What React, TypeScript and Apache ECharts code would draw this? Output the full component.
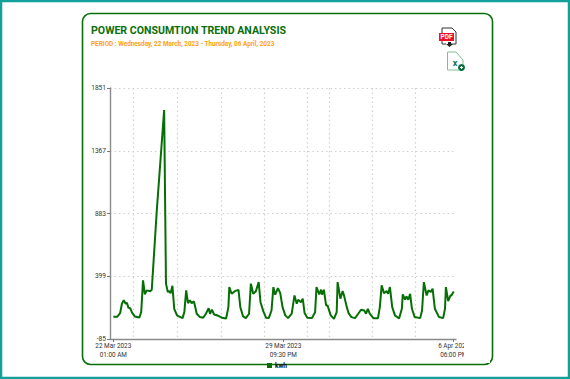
import React, { useEffect, useRef } from "react";
import * as echarts from "echarts";

const TITLE = "POWER CONSUMTION TREND ANALYSIS";
const PERIOD = "PERIOD : Wednesday, 22 March, 2023 - Thursday, 06 April, 2023";
const SERIES_NAME = "kwh";

const yTicks = [-85, 399, 883, 1367, 1851];
const xLabelPositions = [3.6, 188.8, 374.5];
const xLabels = ["22 Mar 2023\n01:00 AM", "29 Mar 2023\n09:30 PM", "6 Apr 2023\n06:00 PM"];
const xGridPositions = [25, 73, 121, 168, 215, 239, 286, 333];

const hours = [
  3.6, 8, 11, 13, 15, 17, 18.5, 20, 22, 24, 27, 32, 34, 36, 38, 40, 44, 45.5, 51, 59, 61, 63, 64.5, 66, 68, 70, 73,
  74.5, 79, 81, 83, 85, 87, 89, 91.5, 94.5, 98, 101.5, 104.5, 107.5, 109, 111, 113.5, 118, 122, 126.5, 129, 130,
  132.5, 136, 140, 142, 145, 148, 151.5, 153.5, 156, 159, 162, 164, 167, 170, 173, 176, 178, 180, 183, 185.5, 188,
  191, 194, 198, 201, 203.5, 205, 208, 210, 212, 215, 220, 223.5, 225, 228, 230, 231, 233, 235.5, 237, 240.5, 244,
  247, 248, 251, 253.5, 255, 258, 260, 263, 267, 270.5, 273.5, 277, 279, 281, 283, 287, 292, 294, 296, 298.5, 301.5,
  303, 305, 307.5, 310.5, 315, 318, 319, 321.5, 323, 325, 327, 329, 332, 338, 340, 342, 345, 347, 349.5, 351.5, 354,
  358.5, 363, 365, 366, 368.5, 371, 372, 374.5,
];
const kwh = [
  87, 87, 114, 187, 215, 187, 195, 156, 153, 118, 89, 81, 122, 367, 259, 290, 284, 295, 908, 1681, 342, 277, 286, 267,
  325, 148, 97, 91, 76, 122, 290, 192, 213, 192, 205, 110, 84, 79, 110, 153, 110, 141, 104, 94, 79, 73, 161, 315, 264,
  284, 294, 161, 89, 76, 110, 342, 264, 284, 354, 199, 130, 79, 76, 135, 315, 257, 308, 269, 161, 97, 76, 110, 251,
  187, 218, 199, 226, 116, 79, 76, 122, 315, 259, 295, 257, 295, 174, 174, 97, 71, 122, 354, 226, 284, 251, 161, 114,
  84, 76, 110, 141, 135, 110, 148, 110, 76, 76, 161, 329, 269, 284, 264, 315, 161, 97, 73, 148, 259, 218, 244, 218,
  264, 148, 84, 76, 135, 354, 251, 290, 277, 303, 148, 84, 76, 148, 315, 207, 251, 251, 282,
];

const GREEN = "#0a6f0a";
const LINE = "#056f05";
const TEAL = "#12a19a";
const FONT = "Roboto";
const GRID_LINE = { color: "#d0d0d0", type: [1.5, 3], width: 1.2 };

export default function App() {
  const ref = useRef<HTMLDivElement>(null);
  useEffect(() => {
    const chart = echarts.init(ref.current!, null, { renderer: "svg" });
    chart.setOption({
      animation: false,
      backgroundColor: "#fff",
      textStyle: { fontFamily: FONT },
      title: {
        text: TITLE,
        subtext: PERIOD,
        left: 91,
        top: 25,
        padding: 0,
        itemGap: 5,
        textStyle: { fontFamily: FONT, fontSize: 10.6, fontWeight: "bold", color: GREEN },
        subtextStyle: { fontFamily: FONT, fontSize: 6.4, fontWeight: "bold", color: "#ffa20f" },
      },
      legend: {
        left: 267,
        top: 362,
        padding: 0,
        itemWidth: 5,
        itemHeight: 5,
        itemGap: 4,
        icon: "rect",
        data: [SERIES_NAME],
        textStyle: { fontFamily: FONT, fontSize: 6.6, fontWeight: "bold", color: "#111", padding: [0, 0, 0, -2] },
      },
      grid: { left: 110, right: 114, top: 88, bottom: 40, containLabel: false },
      xAxis: [
        {
          type: "value",
          min: 0,
          max: 377,
          position: "bottom",
          splitLine: { show: false },
          axisLine: { show: true, onZero: false, lineStyle: { color: "#8a8a8a", width: 1.4 } },
          axisTick: { show: true, length: 3, customValues: xLabelPositions, lineStyle: { color: "#777" } },
          axisLabel: {
            show: true,
            customValues: xLabelPositions,
            fontFamily: FONT,
            fontSize: 6.4,
            lineHeight: 9,
            color: "#333",
            margin: 2,
            formatter: (v: number) => xLabels[xLabelPositions.indexOf(v)],
          },
        },
        {
          type: "value",
          min: 0,
          max: 377,
          position: "bottom",
          axisLine: { show: false },
          axisTick: { show: false, customValues: xGridPositions },
          axisLabel: { show: false },
          splitLine: { show: true, lineStyle: GRID_LINE },
        },
      ],
      yAxis: {
        type: "value",
        min: -85,
        max: 1851,
        axisLine: { show: true, onZero: false, lineStyle: { color: "#8a8a8a", width: 1.4 } },
        axisTick: { show: true, length: 3, customValues: yTicks, lineStyle: { color: "#777" } },
        axisLabel: { customValues: yTicks, fontFamily: FONT, fontSize: 6.6, color: "#333", margin: 4, formatter: (v: number) => String(v) },
        splitLine: { show: true, lineStyle: GRID_LINE },
      },
      series: [
        {
          name: SERIES_NAME,
          type: "line",
          showSymbol: false,
          symbol: "none",
          smooth: false,
          clip: false,
          lineStyle: { color: LINE, width: 2 },
          itemStyle: { color: LINE },
          data: hours.map((h, i) => [h, kwh[i]]),
        },
      ],
      graphic: [
        { type: "rect", z: -10, shape: { x: 1, y: 1, width: 568, height: 377 }, style: { fill: "#fff", stroke: TEAL, lineWidth: 2.5 } },
        { type: "rect", z: -9, shape: { x: 82.5, y: 13.5, width: 410, height: 351, r: 8 }, style: { fill: "#fff", stroke: GREEN, lineWidth: 1.6 } },
        // the reference cuts the last tick label at the right edge of its plot canvas
        { type: "rect", z: 100, shape: { x: 464, y: 342, width: 26, height: 21 }, style: { fill: "#fff" } },
        // PDF icon
        { type: "polyline", z: 5, shape: { points: [[442, 34], [442, 28], [452, 28], [456, 32], [456, 44], [451, 44]] }, style: { fill: "none", stroke: "#333", lineWidth: 1 } },
        { type: "polyline", z: 5, shape: { points: [[442, 40], [442, 44], [446, 44]] }, style: { fill: "none", stroke: "#333", lineWidth: 1 } },
        { type: "rect", z: 6, shape: { x: 439, y: 33, width: 15, height: 8 }, style: { fill: "#f0102a" } },
        { type: "text", z: 7, x: 446.5, y: 37, style: { text: "PDF", fontFamily: FONT, fontSize: 6.5, fontWeight: "bold", fill: "#fff", align: "center", verticalAlign: "middle" } },
        { type: "polygon", z: 6, shape: { points: [[448, 42], [451, 42], [451, 44], [453, 44], [449.5, 47], [446, 44], [448, 44]] }, style: { fill: "#222" } },
        // Excel icon
        { type: "polygon", z: 5, shape: { points: [[447.5, 52], [456, 52], [463, 60], [463, 70], [447.5, 70]] }, style: { fill: "#fff", stroke: "#7fbf97", lineWidth: 1 } },
        { type: "text", z: 6, x: 455, y: 63, style: { text: "x", fontFamily: FONT, fontSize: 9, fontWeight: "bold", fill: "#1d6f42", align: "center", verticalAlign: "middle" } },
        { type: "circle", z: 6, shape: { cx: 461.5, cy: 67.5, r: 3.5 }, style: { fill: "#0a6f3a" } },
        { type: "rect", z: 7, shape: { x: 460, y: 67, width: 3, height: 1 }, style: { fill: "#fff" } },
        { type: "rect", z: 7, shape: { x: 461, y: 66, width: 1, height: 3 }, style: { fill: "#fff" } },
      ],
    });
    return () => chart.dispose();
  }, []);
  return <div ref={ref} style={{ position: "fixed", left: 0, top: 0, width: 570, height: 379 }} />;
}
